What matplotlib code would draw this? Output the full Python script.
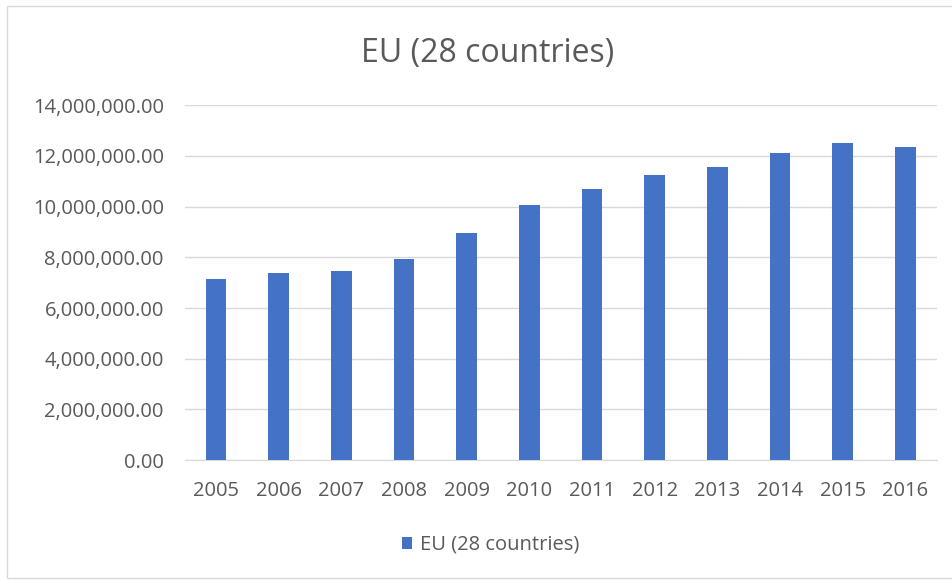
import numpy as np
import matplotlib
matplotlib.use('Agg')
import matplotlib.pyplot as plt
from matplotlib.patches import Rectangle
from matplotlib.ticker import FuncFormatter

years = ['2005', '2006', '2007', '2008', '2009', '2010',
         '2011', '2012', '2013', '2014', '2015', '2016']
values = [7150000, 7380000, 7460000, 7940000, 8950000, 10050000,
          10680000, 11250000, 11560000, 12100000, 12490000, 12350000]
series_name = 'EU (28 countries)'

plt.rcParams['font.family'] = ['Open Sans', 'DejaVu Sans']
TEXT = '#595959'

fig = plt.figure(figsize=(9.52, 5.81), dpi=100)
fig.patches.append(Rectangle((7/952, 3/581), 1.1, 572/581, transform=fig.transFigure,
                             fill=False, edgecolor='#d9d9d9', linewidth=1))
ax = fig.add_axes([0.194, 0.208, 0.79, 0.611])

x = np.arange(len(years))
ax.bar(x, values, width=0.33, color='#4472c4', label=series_name, zorder=3)

ax.set_xlim(-0.5, len(years) - 0.5)
ax.set_ylim(0, 14000000)
ax.set_yticks(np.arange(0, 14000001, 2000000))
ax.yaxis.set_major_formatter(FuncFormatter(lambda v, p: f'{v:,.2f}'))
ax.set_xticks(x)
ax.set_xticklabels(years)
ax.grid(axis='y', color='#d9d9d9', linewidth=1, zorder=0)
for s in ['top', 'right', 'left']:
    ax.spines[s].set_visible(False)
ax.spines['bottom'].set_color('#d9d9d9')
ax.tick_params(length=0, labelsize=14.5, colors=TEXT)
ax.tick_params(axis='x', pad=15)
ax.tick_params(axis='y', pad=15)

fig.text(0.512, 0.908, series_name, ha='center', va='center', fontsize=23, color=TEXT)
fig.legend(loc='center', bbox_to_anchor=(0.515, 0.062), frameon=False, fontsize=14.5,
           handlelength=0.5, handleheight=0.5, handletextpad=0.4, labelcolor=TEXT)

fig.savefig('out.png', dpi=100)
